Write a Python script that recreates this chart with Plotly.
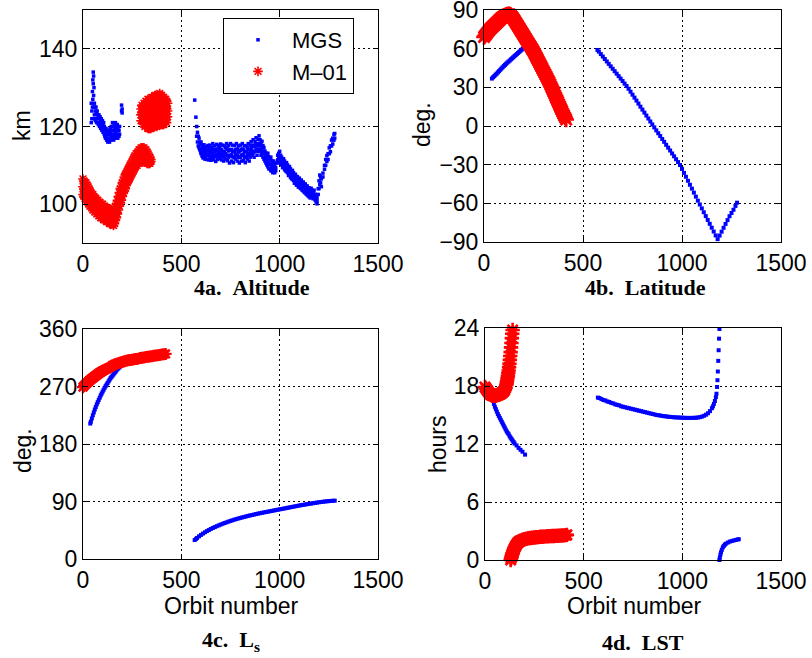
import plotly.graph_objects as go

W, H = 812, 658
BLUE = "#0000ff"
RED = "#ff0000"
SANS = "Liberation Sans"
SERIF = "Liberation Serif"

# ---------------- 4a. Altitude (km) ----------------
# MGS: several occultation altitudes per orbit
mgs_alt_orbit = [42, 45, 48, 50, 52, 54, 56, 58, 60, 63, 66, 69, 72, 75, 78, 81, 84, 87, 90, 93,
                 96, 99, 102, 105, 108, 111, 114, 117, 120, 123, 126, 129, 132, 135, 138, 141, 144,
                 147, 150, 153, 156, 159, 162, 165, 168, 171, 174, 177, 180, 183, 186, 196, 199,
                 568, 574, 578, 582, 586, 590, 594, 598,
                 600, 605, 610, 615, 620, 625, 630, 635, 640, 645, 650, 655, 660, 665, 670, 675,
                 680, 685, 690, 695, 700, 705, 710, 715, 720, 725, 730, 735, 740, 745, 750, 755,
                 760, 765, 770, 775, 780, 785, 790, 795, 800, 805, 810, 815, 820, 825, 830, 835,
                 840, 845, 850, 855, 860, 865, 870, 875, 880, 885, 890, 895, 900, 905, 910, 915,
                 920, 925, 930, 935, 940, 945, 950, 955, 960, 965, 970, 975, 980, 990, 995, 1000,
                 1005, 1010, 1015, 1020, 1025, 1030, 1035, 1040, 1045, 1050, 1055, 1060, 1065,
                 1070, 1075, 1080, 1085, 1090, 1095, 1100, 1105, 1110, 1115, 1120, 1125, 1130,
                 1135, 1140, 1145, 1150, 1155, 1160, 1165, 1170, 1175, 1180, 1185, 1190,
                 1196, 1200, 1204, 1208, 1212, 1220, 1228, 1234, 1240, 1246, 1252, 1258, 1264,
                 1270, 1276, 1280]
mgs_alt_km = [[126, 121], [124, 122], [129, 125], [132, 127], [134, 131], [133, 128], [130, 125],
              [126, 123], [125, 122], [124, 121.5], [125, 122], [123.5, 121], [124, 122],
              [123, 121], [122.5, 120.5], [123, 121], [122, 120], [122.5, 120.5], [121.5, 119.5],
              [122, 120], [121, 119], [121.5, 119.5], [120.5, 118.5], [121, 119], [120, 118],
              [119.5, 117.5], [119, 117], [119.5, 117.5], [118.5, 116.5], [119, 117], [118, 116],
              [118.5, 116.5], [119, 117], [118, 116], [119.5, 117], [118.5, 116.5], [120, 117.5],
              [119, 117], [121, 118], [120, 117.5], [119, 116.5], [120.5, 118], [119.5, 117],
              [121, 118.5], [120, 117.5], [119, 117], [120.5, 118], [119.5, 117], [120, 118],
              [119, 117.5], [120, 118], [125.5, 124], [124.5, 123.5],
              [126.8], [122.4], [120, 117.5], [118.5, 116], [117.5, 115], [117, 114.5],
              [116, 114], [115.5, 113.5],
              [116, 114.2, 113], [115.2, 113.6, 112.4], [114.6, 113, 111.9], [115.3, 113.8, 112.3],
              [114.2, 112.9, 111.6], [114.8, 113.4, 112.1], [113.9, 112.6, 111.5],
              [115.1, 113.7, 112.6], [114.3, 112.8, 111.4], [115.2, 113.5, 112],
              [113.8, 112.4, 111.3], [114.7, 113.3, 111.9], [115.6, 114, 112.5],
              [114.1, 112.7, 111.4], [115, 113.6, 112.2], [113.7, 112.3, 111],
              [115.4, 114.1, 112.8], [114.2, 112.6, 111.5], [115.1, 113.5, 112.4],
              [114.6, 113.1, 111.8], [115.5, 113.9, 112.5], [114.1, 112.8, 111.4],
              [115.2, 113.4, 112.3], [113.6, 112.5, 111.1], [115, 113.3, 112], [114.6, 113, 111.6],
              [115.6, 114.2, 112.6], [114.2, 112.6, 111.2], [115.1, 113.7, 112.1],
              [114, 112.4, 110.6], [115.6, 114, 112.6], [114.1, 112.7, 111.1],
              [115.2, 113.5, 112.2], [113.6, 112.2, 110.7], [115.1, 113.6, 112],
              [114.1, 112.9, 111.6], [115.6, 114, 112.6], [114.2, 112.5, 111.1],
              [115, 113.4, 112.1], [113.7, 112.1, 110.6], [115.2, 113.8, 112.1],
              [114.1, 112.6, 111.1], [115.6, 114.2, 112.7], [114.1, 112.8, 111.2],
              [115.1, 113.5, 112.1], [113.6, 112.2, 110.7], [115, 113.6, 112.1],
              [114.6, 113, 111.6], [115.6, 114, 112.6], [114.1, 112.7, 111.1],
              [115.2, 113.6, 112.1], [116.1, 114.4, 113.1], [115.1, 113.7, 112.6],
              [116.6, 114.8, 113.1], [115.2, 113.5, 112.1], [116.1, 114.9, 113.6],
              [117.1, 115.4, 114.1], [115.6, 114.1, 112.6], [116.7, 115, 113.6],
              [117.6, 115.6, 114.1], [116.6, 115.1, 113.6], [115.7, 114.1, 112.6],
              [116.2, 114.5, 113.1], [115.1, 113.6, 112.1], [114.6, 113.1, 111.6],
              [113.7, 112.2, 111.1], [113.2, 111.8, 110.6], [112.6, 111.2, 110.1],
              [113.1, 111.3, 109.6], [112.2, 110.6, 109.1], [111.6, 110.2, 109.1],
              [112.1, 110.3, 108.6], [111.2, 109.8, 108.6], [110.6, 109.3, 108.1],
              [111.1, 109.7, 108.6], [110.2, 109.1, 108.1], [110.6, 109.4, 108.6],
              [112.6, 111.4, 110.6], [113.1, 111.9, 111.1], [113.6, 112.2, 111.1],
              [112.6, 111.6, 110.4], [112.1, 110.9, 110.1], [111.6, 110.6, 109.4],
              [111.7, 110.4, 109.6], [111.1, 110.1, 108.9], [110.6, 109.4, 108.6],
              [110.7, 109.7, 108.4], [110.1, 108.9, 108.1], [109.6, 108.6, 107.4],
              [109.7, 108.4, 107.6], [109.1, 108.1, 106.9], [108.6, 107.4, 106.6],
              [108.7, 107.6, 106.4], [108.1, 106.9, 106.1], [107.6, 106.6, 105.4],
              [107.7, 106.4, 105.6], [107.1, 106.1, 104.9], [107.1, 105.9, 105.1],
              [106.6, 105.4, 104.4], [106.7, 105.6, 104.6], [106.1, 104.9, 104.1],
              [106.2, 105.1, 103.9], [105.6, 104.4, 103.6], [105.7, 104.6, 103.4],
              [105.1, 103.9, 103.1], [105.2, 104.1, 102.9], [104.6, 103.4, 102.6],
              [104.7, 103.6, 102.4], [104.1, 102.9, 102.1], [104.2, 103.1, 101.9],
              [103.6, 102.4, 101.6], [104.1, 102.9, 102.1], [103.6, 102.6, 101.9],
              [103.1, 102.1, 101.4], [103.6, 102.4, 101.6], [102.6, 101.7, 101.1],
              [102.1, 101.2, 100.6], [101.6, 100.8, 100.1],
              [104, 102.5], [106, 104], [107.5, 105], [107, 105.5], [106.5, 104.5],
              [108, 107], [110, 109], [111.5, 110], [112.5, 111], [113, 111.5], [114.5, 113],
              [115, 113.5], [116.5, 115], [117, 115.5], [118, 116.5], [118.2, 117]]

# M-01: several occultation altitudes per orbit
m01_alt_orbit = [0, 5, 10, 15, 20, 25, 30, 35, 40, 45, 50, 55, 60, 65, 70, 75, 80, 85, 90, 95,
                 100, 105, 110, 115, 120, 125, 130, 135, 140, 145, 150, 155, 160, 165, 170, 175,
                 180, 185, 190, 195, 200, 205, 210, 215, 220, 225, 230, 235, 240, 245, 250, 255,
                 260, 265, 270, 275, 280, 285, 290, 295, 300, 305, 310, 315, 320, 325, 330, 335,
                 340, 345,
                 295, 300, 305, 310, 315, 320, 325, 330, 335, 340, 345, 350, 355, 360, 365, 370,
                 375, 380, 385, 390, 395, 400, 405, 410, 415, 420, 425, 430]
m01_alt_km = [[106.5, 104.5, 102.5], [106, 104, 102], [105.5, 103.5, 101.5], [105.5, 103.5, 101.5],
              [105, 103, 101], [104.5, 102.5, 100.5], [104, 102, 100], [103.5, 101.5, 99.5],
              [103, 101, 99.5], [102.5, 100.5, 99], [102.5, 100.5, 98.5], [102, 100, 98.5],
              [101.5, 100, 98], [101.5, 99.5, 98], [101, 99.5, 97.5], [101, 99, 97.5],
              [100.5, 99, 97], [100.5, 98.5, 97], [100, 98.5, 96.5], [100, 98, 96.5],
              [100, 98, 96.5], [99.5, 98, 96], [99.5, 97.5, 96], [99, 97.5, 96], [99, 97.5, 95.5],
              [99, 97, 95.5], [98.5, 97, 95.5], [98.5, 97, 95], [98.5, 96.5, 95], [98.5, 96.5, 95],
              [98, 96.5, 95], [98, 96.5, 94.5], [98.5, 96.5, 95], [99.5, 97.5, 96],
              [100, 98, 96.5], [101, 99, 97.5], [102, 100, 98.5], [103, 101, 99.5],
              [104, 102, 100.5], [104.5, 102.5, 101], [105.5, 103.5, 102], [106, 104.5, 103],
              [107, 105, 103.5], [107.5, 105.5, 104], [108, 106.5, 105], [108.5, 107, 105.5],
              [109, 107.5, 106], [109.5, 108, 106.5], [110, 108.5, 107], [110.5, 109, 107.5],
              [111, 109.5, 108], [111.5, 110, 108.5], [112, 110.5, 109], [112.5, 111, 109.5],
              [113, 111.5, 110], [113, 111.5, 110], [113.5, 112, 110.5], [114, 112, 110.5],
              [114, 112.5, 111], [114.5, 113, 111], [114.5, 113, 111], [114.5, 113, 111],
              [114.5, 113, 111.5], [114, 112.5, 111], [114, 112.5, 111], [113.5, 112, 110.5],
              [113, 111.5, 110.5], [112.5, 111, 110.5], [112, 111, 110.5], [111.5, 111],
              [124.5, 123, 121.5], [125.5, 123.5, 121.5], [125, 123, 121.5],
              [126, 124, 122, 120.5], [125.5, 123.5, 121.5, 120], [126.5, 124.5, 122.5, 120.5],
              [126, 124, 122, 120.5], [127, 125, 123, 121, 119.5], [126.5, 124.5, 122.5, 120.5, 119.5],
              [127, 125, 123, 121, 119.5], [127, 125, 123, 121, 119.5], [127.5, 125.5, 123.5, 121.5, 120],
              [127.5, 125.5, 123.5, 121.5, 120], [127.5, 125.5, 123.5, 121.5, 120],
              [128, 126, 124, 122, 120], [128, 126, 124, 122, 120.5], [127.5, 125.5, 123.5, 121.5, 120],
              [128, 126, 124, 122, 120.5], [128, 126, 124, 122, 120.5], [128.5, 126.5, 124.5, 122.5, 121],
              [128, 126, 124, 122, 120.5], [128, 126, 124, 122, 120.5], [127.5, 125.5, 123.5, 121.5, 120.5],
              [127.5, 125.5, 123.5, 121.5, 120.5], [127, 125, 123, 121.5], [127, 125, 123, 121.5],
              [126.5, 124.5, 122.5, 121], [126, 124, 122.5]]

# ---------------- 4b. Latitude (deg) ----------------
mgs_lat_orbit = [40, 46, 52, 58, 64, 70, 76, 82, 88, 94, 100, 106, 112, 118, 124, 130, 136, 142,
                 148, 154, 160, 166, 172, 178, 184, 190, 196, 202, 208, 214,
                 573, 580, 590, 600, 610, 620, 630, 640, 650, 660, 670, 680, 690, 700, 710, 720,
                 730, 740, 750, 760, 770, 780, 790, 800, 810, 820, 830, 840, 850, 860, 870, 880,
                 890, 900, 910, 920, 930, 940, 950, 960, 970, 980, 990, 1000, 1010, 1020, 1030,
                 1040, 1050, 1060, 1070, 1080, 1090, 1100, 1110, 1120, 1130, 1140, 1150, 1160,
                 1170, 1180, 1190, 1200, 1210, 1220, 1230, 1240, 1250, 1260, 1270, 1278]
mgs_lat_deg = [36.8, 37.8, 38.7, 39.7, 40.6, 41.6, 42.6, 43.6, 44.6, 45.5, 46.5, 47.4, 48.3, 49.2,
               50.0, 50.8, 51.7, 52.5, 53.3, 54.2, 55.0, 55.8, 56.7, 57.5, 58.3, 59.2, 60.0, 60.8,
               61.7, 62.5,
               59.0, 57.7, 55.8, 53.9, 52.0, 50.1, 48.2, 46.3, 44.4, 42.5, 40.6, 38.7, 36.8, 34.9,
               32.9, 31.0, 28.9, 26.6, 24.3, 22.0, 19.7, 17.4, 15.0, 12.7, 10.4, 8.1, 5.8, 3.5,
               1.2, -1.1, -3.4, -5.6, -7.8, -10.1, -12.3, -14.6, -16.8, -19.0, -21.3, -23.5,
               -25.8, -28.0, -30.3, -33.3, -36.4, -39.4, -42.5, -45.6, -48.6, -51.7, -54.8,
               -57.9, -60.9, -63.9, -66.9, -69.9, -72.9, -75.9, -78.9, -81.9, -84.9, -87.8,
               -85.0, -82.0, -79.0, -76.0, -73.0, -70.0, -67.5, -65.0, -62.0, -59.5]

m01_lat_orbit = [0, 5, 10, 15, 20, 25, 30, 35, 40, 45, 50, 55, 60, 65, 70, 75, 80, 85, 90, 95,
                 100, 105, 110, 115, 120, 125, 130, 135, 140, 145, 150, 155, 160, 165, 170, 175,
                 180, 185, 190, 195, 200, 205, 210, 215, 220, 225, 230, 235, 240, 245, 250, 255,
                 260, 265, 270, 275, 280, 285, 290, 295, 300, 305, 310, 315, 320, 325, 330, 335,
                 340, 345, 350, 355, 360, 365, 370, 375, 380, 385, 390, 395, 400, 405, 410, 415]
m01_lat_deg = [69, 70, 71, 72, 73, 74, 75, 75.8, 76.5, 77.3, 78, 78.8, 79.5, 80.3, 81, 81.8,
               82.5, 83.3, 84, 84.5, 85, 85.5, 86, 86.3, 86.5, 86.6, 86.5, 86, 85, 84, 83, 81.8,
               80.5, 79.3, 78, 76.8, 75.5, 74.3, 73, 71.8, 70.5, 69.3, 68, 66.8, 65.5, 64.3, 63,
               61.8, 60.5, 59.3, 58, 56.5, 55, 53.5, 52, 50.5, 49, 47.5, 46, 44.5, 43, 41.5, 40,
               38.5, 37, 35.5, 34, 32.3, 30.5, 28.8, 27, 25.3, 23.5, 21.8, 20, 18.3, 16.5, 14.8,
               13, 11.3, 9.5, 8, 6.5, 5]

# ---------------- 4c. Ls (deg) ----------------
mgs_ls_orbit = [37, 40, 45, 50, 55, 60, 65, 70, 75, 80, 85, 90, 95, 100, 105, 110, 115, 120,
                125, 130, 135, 140, 145, 150, 155, 160, 165, 170, 175, 180, 185, 190,
                568, 575, 580, 590, 600, 610, 620, 630, 640, 650, 660, 670, 680, 690, 700, 710,
                720, 730, 740, 750, 760, 770, 780, 790, 800, 810, 820, 830, 840, 850, 860, 870,
                880, 890, 900, 910, 920, 930, 940, 950, 960, 970, 980, 990, 1000, 1010, 1020,
                1030, 1040, 1050, 1060, 1070, 1080, 1090, 1100, 1110, 1120, 1130, 1140, 1150,
                1160, 1170, 1180, 1190, 1200, 1210, 1220, 1230, 1240, 1250, 1260, 1270, 1280]
mgs_ls_deg = [212, 215, 220, 225, 229.5, 234, 238, 242, 245.5, 249, 252.5, 256, 259, 262, 265,
              268, 270.5, 273, 275.5, 278, 280.5, 283, 285, 287, 289, 291, 293, 295, 297, 298.5,
              300, 301.5,
              29.7, 31.5, 33.0, 35.5, 37.7, 39.8, 41.8, 43.6, 45.3, 47.0, 48.5, 49.9, 51.3, 52.6,
              53.9, 55.1, 56.3, 57.4, 58.5, 59.6, 60.6, 61.6, 62.5, 63.4, 64.3, 65.1, 65.9, 66.7,
              67.5, 68.2, 68.9, 69.6, 70.3, 71.0, 71.7, 72.3, 72.9, 73.5, 74.1, 74.7, 75.3, 75.9,
              76.5, 77.1, 77.7, 78.3, 78.9, 79.5, 80.1, 80.7, 81.3, 81.9, 82.5, 83.1, 83.7, 84.3,
              84.8, 85.3, 85.8, 86.3, 86.8, 87.3, 87.8, 88.3, 88.8, 89.2, 89.6, 90.0, 90.3, 90.6,
              90.9, 91.1, 91.3]

m01_ls_orbit = [0, 5, 10, 15, 20, 25, 30, 35, 40, 45, 50, 55, 60, 65, 70, 75, 80, 85, 90, 95,
                100, 110, 120, 130, 140, 150, 160, 170, 180, 190, 200, 210, 220, 230, 240, 250,
                260, 270, 280, 290, 300, 310, 320, 330, 340, 350, 360, 370, 380, 390, 400, 410,
                420]
m01_ls_deg = [269, 270.8, 272.5, 274, 275.5, 277, 278.5, 279.8, 281, 282.3, 283.5, 284.8, 286,
              287, 288, 289.3, 290.5, 291.5, 292.5, 293.5, 294.5, 296, 297.5, 299, 300.5, 303,
              304.5, 305.5, 306.5, 307.5, 308.5, 309.5, 310.5, 311, 311.5, 312, 312.5, 313,
              313.5, 314.5, 315, 315.5, 316, 316.5, 317, 317.5, 318, 318.5, 319, 319.5, 320,
              320.5, 321]

# ---------------- 4d. Local solar time (hours) ----------------
mgs_lst_orbit = [39, 45, 50, 55, 60, 65, 70, 75, 80, 85, 90, 95, 100, 105, 110, 115, 120, 125,
                 130, 135, 140, 145, 150, 160, 170, 180, 190, 203,
                 572, 580, 590, 600, 610, 620, 630, 640, 650, 660, 670, 680, 690, 700, 710, 720,
                 730, 740, 750, 760, 770, 780, 790, 800, 810, 820, 830, 840, 850, 860, 870, 880,
                 890, 900, 910, 920, 930, 940, 950, 960, 970, 980, 990, 1000, 1010, 1020, 1030,
                 1040, 1050, 1060, 1070, 1080, 1090, 1100, 1110, 1120, 1130, 1140, 1150, 1155,
                 1160, 1165, 1170, 1173, 1176, 1178, 1180, 1182, 1184, 1186, 1188,
                 1188, 1190, 1193, 1196, 1200, 1205, 1210, 1215, 1220, 1230, 1240, 1250, 1260,
                 1270, 1280, 1286]
mgs_lst_hr = [16.5, 16.15, 15.85, 15.6, 15.35, 15.1, 14.9, 14.7, 14.5, 14.3, 14.1, 13.9, 13.7,
              13.5, 13.3, 13.15, 13.0, 12.8, 12.65, 12.5, 12.35, 12.2, 12.05, 11.85, 11.6, 11.4,
              11.2, 10.9,
              16.8, 16.75, 16.65, 16.55, 16.5, 16.4, 16.35, 16.25, 16.2, 16.1, 16.05, 16.0, 15.9,
              15.85, 15.8, 15.75, 15.7, 15.65, 15.6, 15.55, 15.5, 15.45, 15.4, 15.35, 15.3, 15.25,
              15.2, 15.15, 15.1, 15.05, 15.0, 14.97, 14.94, 14.9, 14.87, 14.85, 14.82, 14.8,
              14.78, 14.76, 14.75, 14.74, 14.73, 14.72, 14.71, 14.7, 14.7, 14.7, 14.7, 14.71,
              14.72, 14.74, 14.78, 14.84, 14.92, 15.03, 15.18, 15.4, 15.7, 15.9, 16.15, 16.45,
              16.85, 17.2, 17.9, 18.6, 19.5, 20.6, 21.7, 22.9, 23.9,
              0.0, 0.25, 0.55, 0.8, 1.05, 1.3, 1.45, 1.58, 1.68, 1.8, 1.9, 1.96, 2.02, 2.07,
              2.12, 2.15]

m01_lst_orbit = [0, 5, 10, 15, 20, 25, 30, 35, 40, 45, 50, 55, 60, 65, 70, 75, 80, 85, 90, 95,
                 100, 104, 108, 110, 112, 114, 116, 118, 120, 122, 124, 126, 128, 130, 132, 134,
                 136, 138, 140,
                 130, 132, 134, 136, 138, 140, 142, 145, 148, 151, 155, 160, 165, 170, 175, 180,
                 190, 200, 210, 220, 230, 240, 250, 260, 270, 280, 290, 300, 310, 320, 330, 340,
                 350, 360, 370, 380, 390, 400, 410, 415]
m01_lst_hr = [17.9, 17.75, 17.6, 17.45, 17.3, 17.2, 17.1, 17.05, 17.0, 17.0, 17.0, 17.0, 17.05,
              17.08, 17.1, 17.15, 17.2, 17.28, 17.35, 17.45, 17.6, 17.8, 18.1, 18.3, 18.55, 18.8,
              19.05, 19.35, 19.6, 19.95, 20.3, 20.7, 21.1, 21.5, 22.0, 22.45, 22.95, 23.4, 23.8,
              0.0, 0.15, 0.3, 0.45, 0.6, 0.7, 0.85, 1.0, 1.15, 1.3, 1.45, 1.6, 1.75, 1.85, 1.93,
              2.0, 2.1, 2.15, 2.2, 2.25, 2.28, 2.3, 2.33, 2.35, 2.37, 2.4, 2.41, 2.42, 2.44,
              2.45, 2.47, 2.48, 2.49, 2.5, 2.51, 2.52, 2.53, 2.55, 2.57, 2.6]


def expand(orbits, groups):
    """Repeat each orbit once for every value measured on it."""
    xs, ys = [], []
    for o, vals in zip(orbits, groups):
        for v in vals:
            xs.append(o)
            ys.append(v)
    return xs, ys


def mgs_marker(size):
    return dict(symbol="square", size=size, color=BLUE, line=dict(width=0))


def m01_marker(size, width):
    return dict(symbol="asterisk-open", size=size, color=RED, line=dict(color=RED, width=width))


fig = go.Figure()

panels = [
    ("x", "y", expand(mgs_alt_orbit, mgs_alt_km), expand(m01_alt_orbit, m01_alt_km), 3.5, 8, 1.6),
    ("x2", "y2", (mgs_lat_orbit, mgs_lat_deg), (m01_lat_orbit, m01_lat_deg), 4, 13, 2.6),
    ("x3", "y3", (mgs_ls_orbit, mgs_ls_deg), (m01_ls_orbit, m01_ls_deg), 4, 10, 2.4),
    ("x4", "y4", (mgs_lst_orbit, mgs_lst_hr), (m01_lst_orbit, m01_lst_hr), 4, 12, 2.6),
]
for i, (xa, ya, (mx, my), (rx, ry), bsize, rsize, rwidth) in enumerate(panels):
    first = i == 0
    fig.add_trace(go.Scatter(x=mx, y=my, mode="markers", marker=mgs_marker(bsize), name="MGS",
                             showlegend=first, xaxis=xa, yaxis=ya, cliponaxis=False))
    fig.add_trace(go.Scatter(x=rx, y=ry, mode="markers", marker=m01_marker(rsize, rwidth),
                             name="M\u201301", showlegend=first, xaxis=xa, yaxis=ya,
                             cliponaxis=False))


def dom_x(left, right):
    return [left / W, right / W]


def dom_y(top, bottom):
    return [1 - bottom / H, 1 - top / H]


tick_font = dict(family=SANS, size=23, color="black")
axis_common = dict(showgrid=True, gridcolor="black", gridwidth=1, griddash="2px,3px",
                   showline=True, linecolor="black", linewidth=1, mirror="ticks",
                   ticks="inside", ticklen=5, tickcolor="black", tickfont=tick_font,
                   zeroline=False, fixedrange=True, automargin=False,
                   ticklabeloverflow="allow")
x_common = dict(axis_common, range=[0, 1500], tickvals=[0, 500, 1000, 1500],
                ticklabelstandoff=0)

fig.update_layout(
    xaxis=dict(x_common, domain=dom_x(83, 378), anchor="y"),
    yaxis=dict(axis_common, domain=dom_y(10, 243), range=[90, 150], tickvals=[100, 120, 140],
               anchor="x"),
    xaxis2=dict(x_common, domain=dom_x(484, 781), anchor="y2"),
    yaxis2=dict(axis_common, domain=dom_y(10, 242), range=[-90, 90],
                tickvals=[-90, -60, -30, 0, 30, 60, 90], anchor="x2"),
    xaxis3=dict(x_common, domain=dom_x(83, 378), anchor="y3"),
    yaxis3=dict(axis_common, domain=dom_y(329, 559), range=[0, 360],
                tickvals=[0, 90, 180, 270, 360], anchor="x3"),
    xaxis4=dict(x_common, domain=dom_x(485, 781), anchor="y4"),
    yaxis4=dict(axis_common, domain=dom_y(328, 560), range=[0, 24],
                tickvals=[0, 6, 12, 18, 24], anchor="x4"),
)


def note(text, x, y, font, angle=0):
    fig.add_annotation(text=text, x=x / W, y=1 - y / H, xref="paper", yref="paper",
                       xanchor="center", yanchor="middle", showarrow=False, textangle=angle,
                       font=font)


label_font = dict(family=SANS, size=23, color="black")
title_font = dict(family=SERIF, size=22, color="black", weight="bold")
NB = "\u00a0"

note("km", 22, 126, label_font, -90)
note("deg.", 422, 125, label_font, -90)
note("deg.", 23, 451, label_font, -90)
note("hours", 438, 444, label_font, -90)
note("Orbit number", 231, 606, label_font)
note("Orbit number", 634, 606, label_font)
note(f"<b>4a.{NB}{NB}Altitude</b>", 252, 287, title_font)
note(f"<b>4b.{NB}{NB}Latitude</b>", 645, 287, title_font)
note(f"<b>4c.{NB}{NB}L<sub>s</sub></b>", 231, 641, title_font)
note(f"<b>4d.{NB}{NB}LST</b>", 643, 642, title_font)

fig.update_layout(
    width=W, height=H, margin=dict(l=0, r=0, t=0, b=0, pad=0, autoexpand=False),
    paper_bgcolor="white", plot_bgcolor="white",
    showlegend=True,
    legend=dict(x=223 / W, y=1 - 18 / H, xanchor="left", yanchor="top", bgcolor="white",
                bordercolor="black", borderwidth=1, font=dict(family=SANS, size=22, color="black"),
                itemwidth=58, tracegroupgap=0, entrywidth=68, entrywidthmode="pixels"),
)

fig.write_html("out.html")
